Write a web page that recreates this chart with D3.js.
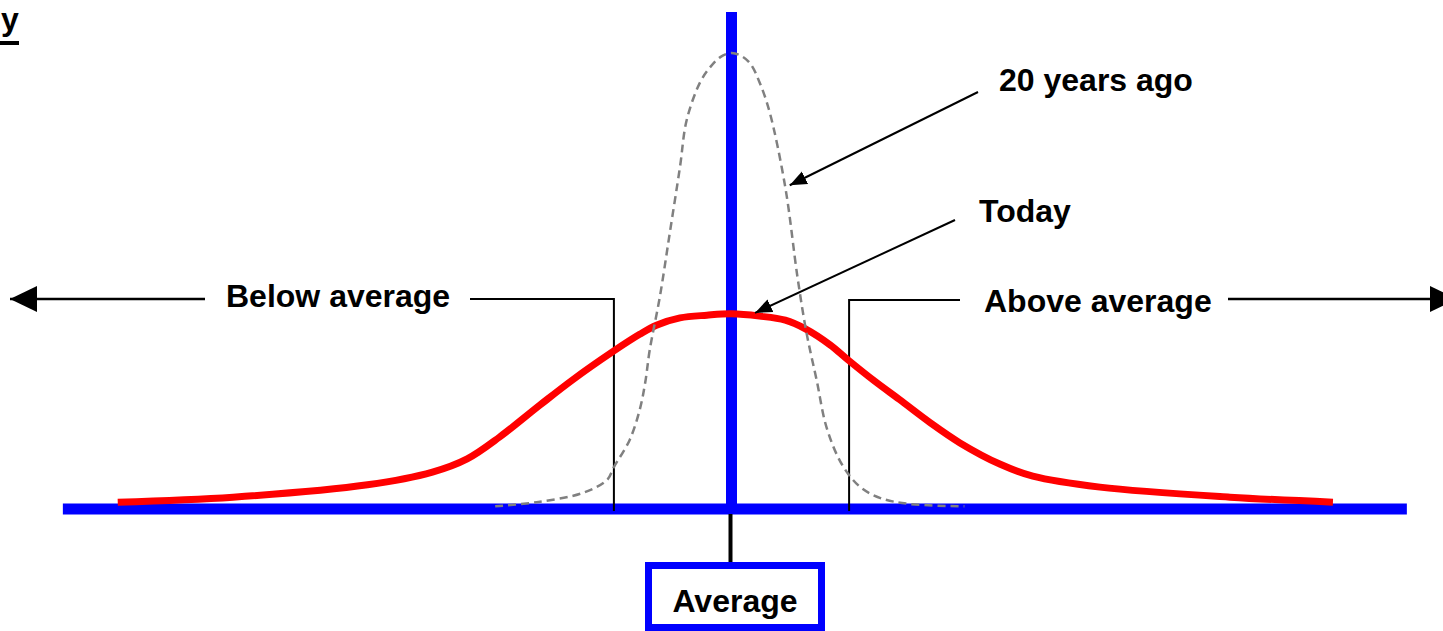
<!DOCTYPE html>
<html>
<head>
<meta charset="utf-8">
<script src="https://cdn.jsdelivr.net/npm/d3@7"></script>
<style>
  html, body { margin: 0; padding: 0; background: #fff; overflow: hidden; }
  svg { display: block; }
  text { font-family: "Liberation Sans", Arial, sans-serif; font-weight: bold; fill: #000; }
</style>
</head>
<body>
<div id="chart"></div>
<script>
// Deviation from the average (x) and relative frequency (y)
const todayX = [-5.48, -4.45, -3.25, -2.67, -2.36, -2.07, -1.71, -1.42, -1.06, -0.82, -0.67, -0.46, -0.22, 0,
                0.25, 0.48, 0.66, 0.88, 1.04, 1.28, 1.50, 1.77, 2.04, 2.40, 2.69, 3.29, 4.45, 5.37];
const todayY = [0.015, 0.026, 0.053, 0.081, 0.110, 0.158, 0.228, 0.283, 0.345, 0.383, 0.403, 0.419, 0.425, 0.428,
                0.423, 0.414, 0.395, 0.360, 0.327, 0.280, 0.240, 0.190, 0.145, 0.098, 0.072, 0.048, 0.026, 0.015];

const pastX = [-2.11, -1.74, -1.33, -1.11, -1.05, -0.91, -0.82, -0.77, -0.73, -0.64, -0.55, -0.46, -0.40, -0.28, -0.19, -0.10, 0,
               0.09, 0.17, 0.25, 0.34, 0.48, 0.59, 0.67, 0.76, 0.85, 0.99, 1.15, 1.33, 1.59, 2.08];
const pastY = [0.006, 0.015, 0.035, 0.064, 0.092, 0.151, 0.217, 0.278, 0.349, 0.465, 0.607, 0.750, 0.853, 0.936, 0.969, 0.991, 1.0,
               0.993, 0.976, 0.936, 0.871, 0.706, 0.507, 0.386, 0.283, 0.178, 0.096, 0.048, 0.024, 0.011, 0.006];

const axisExtent = [-5.97, 6.03];     // horizontal blue axis
const averageTop = 1.09;              // top of the vertical "average" line
const thresholds = [-1.05, 1.05];     // below / above average markers
const labels = ['Below average', 'Above average', '20 years ago', 'Today', 'Average'];
const title = 'y';

const width = 1443, height = 631;
const blue = '#0000ff', red = '#ff0000', grey = '#808080';
const fontSize = '32px';

const x = d3.scaleLinear().domain([-6, 6]).range([59.5, 1403.5]);
const y = d3.scaleLinear().domain([0, 1]).range([509, 53]);

const svg = d3.select('#chart').append('svg')
    .attr('width', width)
    .attr('height', height);

// Arrow markers
const defs = svg.append('defs');
defs.append('marker')
    .attr('id', 'bigArrow')
    .attr('markerUnits', 'userSpaceOnUse')
    .attr('viewBox', '0 -14 28 28')
    .attr('markerWidth', 28).attr('markerHeight', 28)
    .attr('refX', 27).attr('refY', 0)
    .attr('orient', 'auto')
    .append('path').attr('d', 'M0,-13L27,0L0,13Z').attr('fill', '#000');
defs.append('marker')
    .attr('id', 'smallArrow')
    .attr('markerUnits', 'userSpaceOnUse')
    .attr('viewBox', '0 -8 18 16')
    .attr('markerWidth', 18).attr('markerHeight', 16)
    .attr('refX', 17).attr('refY', 0)
    .attr('orient', 'auto')
    .append('path').attr('d', 'M0,-7L17,0L0,7Z').attr('fill', '#000');

// Title remnant in the corner
svg.append('text')
    .attr('x', 1).attr('y', 30)
    .style('font-size', fontSize)
    .text(title);
svg.append('rect')
    .attr('x', 0).attr('y', 41)
    .attr('width', 19).attr('height', 4)
    .attr('fill', '#000');

// Blue axes
svg.append('line')
    .attr('x1', x(axisExtent[0])).attr('x2', x(axisExtent[1]))
    .attr('y1', y(0)).attr('y2', y(0))
    .attr('stroke', blue).attr('stroke-width', 11);
svg.append('line')
    .attr('x1', x(0)).attr('x2', x(0))
    .attr('y1', y(averageTop)).attr('y2', y(0) + 5)
    .attr('stroke', blue).attr('stroke-width', 11);

// Average label box
svg.append('line')
    .attr('x1', x(0) - 1).attr('x2', x(0) - 1)
    .attr('y1', y(0) + 5).attr('y2', 563)
    .attr('stroke', '#000').attr('stroke-width', 4);
svg.append('rect')
    .attr('x', 648.5).attr('y', 565.5)
    .attr('width', 173).attr('height', 62)
    .attr('fill', '#fff')
    .attr('stroke', blue).attr('stroke-width', 7);
svg.append('text')
    .attr('x', 735).attr('y', 612)
    .attr('text-anchor', 'middle')
    .style('font-size', fontSize)
    .text(labels[4]);

// Below / above average brackets
svg.append('path')
    .attr('d', `M470,299H${x(thresholds[0])}V511`)
    .attr('fill', 'none').attr('stroke', '#000').attr('stroke-width', 2);
svg.append('path')
    .attr('d', `M960,300H${x(thresholds[1])}V511`)
    .attr('fill', 'none').attr('stroke', '#000').attr('stroke-width', 2);

svg.append('text')
    .attr('x', 226).attr('y', 307)
    .style('font-size', fontSize)
    .text(labels[0]);
svg.append('text')
    .attr('x', 984).attr('y', 312)
    .style('font-size', fontSize)
    .text(labels[1]);

// Direction arrows
svg.append('line')
    .attr('x1', 205).attr('y1', 299).attr('x2', 10).attr('y2', 299)
    .attr('stroke', '#000').attr('stroke-width', 2.5)
    .attr('marker-end', 'url(#bigArrow)');
svg.append('line')
    .attr('x1', 1228).attr('y1', 299).attr('x2', 1457).attr('y2', 299)
    .attr('stroke', '#000').attr('stroke-width', 2.5)
    .attr('marker-end', 'url(#bigArrow)');

// Curves
const line = d3.line()
    .x(d => x(d[0]))
    .y(d => y(d[1]))
    .curve(d3.curveCatmullRom.alpha(0.5));

svg.append('path')
    .datum(d3.zip(todayX, todayY))
    .attr('d', line)
    .attr('fill', 'none')
    .attr('stroke', red)
    .attr('stroke-width', 7);

svg.append('path')
    .datum(d3.zip(pastX, pastY))
    .attr('d', line)
    .attr('fill', 'none')
    .attr('stroke', grey)
    .attr('stroke-width', 2.5)
    .attr('stroke-dasharray', '8,5');

// Curve pointers
svg.append('text')
    .attr('x', 999).attr('y', 91)
    .style('font-size', fontSize)
    .text(labels[2]);
svg.append('line')
    .attr('x1', 978).attr('y1', 92).attr('x2', x(0.52)).attr('y2', y(0.71))
    .attr('stroke', '#000').attr('stroke-width', 2)
    .attr('marker-end', 'url(#smallArrow)');

svg.append('text')
    .attr('x', 979).attr('y', 222)
    .style('font-size', fontSize)
    .text(labels[3]);
svg.append('line')
    .attr('x1', 955).attr('y1', 220).attr('x2', x(0.21)).attr('y2', y(0.43))
    .attr('stroke', '#000').attr('stroke-width', 2)
    .attr('marker-end', 'url(#smallArrow)');
</script>
</body>
</html>
